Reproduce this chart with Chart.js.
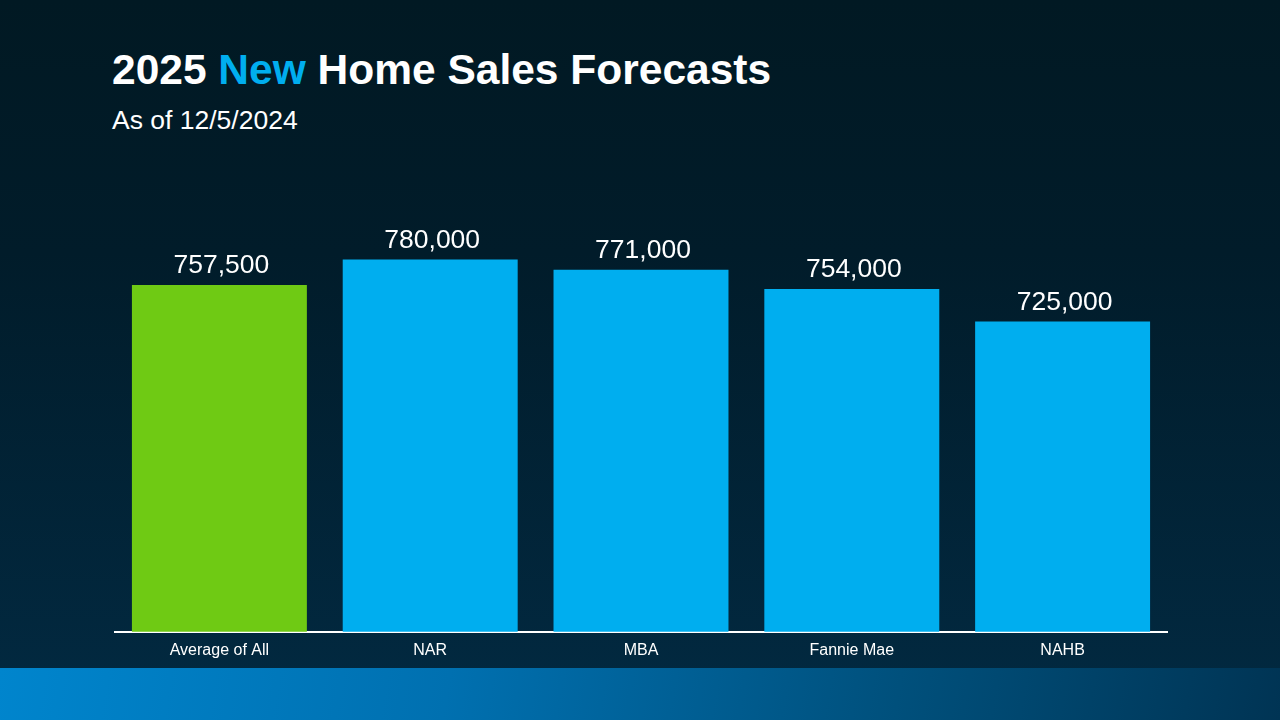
<!DOCTYPE html>
<html>
<head>
<meta charset="utf-8">
<script src="https://cdn.jsdelivr.net/npm/chart.js@4/dist/chart.umd.min.js"></script>
<style>
    html, body {
        margin: 0;
        padding: 0;
        width: 1280px;
        height: 720px;
        overflow: hidden;
    }
    body {
        position: relative;
        font-family: "Liberation Sans", Arial, sans-serif;
        background: linear-gradient(180deg, #011923 0%, #011c2a 35%, #022a42 100%);
    }
    .title {
        position: absolute;
        left: 112px;
        top: 46px;
        margin: 0;
        font-size: 42.5px;
        font-weight: bold;
        color: #ffffff;
        white-space: nowrap;
    }
    .title span {
        color: #00aeef;
    }
    .subtitle {
        position: absolute;
        left: 112px;
        top: 105px;
        margin: 0;
        font-size: 26.5px;
        color: #ffffff;
    }
    .chart-wrapper {
        position: absolute;
        left: 114px;
        top: 197px;
        width: 1054px;
        height: 472px;
    }
    .footer-band {
        position: absolute;
        left: 0;
        top: 668px;
        width: 1280px;
        height: 52px;
        background: linear-gradient(100deg, #0085cd 0%, #0070b0 35%, #00507c 70%, #003454 100%);
    }
</style>
</head>
<body>
<h1 class="title">2025 <span>New</span> Home Sales Forecasts</h1>
<p class="subtitle">As of 12/5/2024</p>
<div class="chart-wrapper">
    <canvas id="forecast-chart"></canvas>
</div>
<div class="footer-band"></div>

<script>
const categories = ["Average of All", "NAR", "MBA", "Fannie Mae", "NAHB"];
const forecastValues = [757500, 780000, 771000, 754000, 725000];
const barColors = ["#6fca14", "#00aeef", "#00aeef", "#00aeef", "#00aeef"];

// draws the number above each bar
const valueLabels = {
    id: "valueLabels",
    afterDatasetsDraw(chart) {
        const ctx = chart.ctx;
        const meta = chart.getDatasetMeta(0);
        ctx.save();
        ctx.fillStyle = "#ffffff";
        ctx.font = "26.5px 'Liberation Sans', Arial, sans-serif";
        ctx.textAlign = "center";
        ctx.textBaseline = "alphabetic";
        meta.data.forEach((bar, i) => {
            ctx.fillText(forecastValues[i].toLocaleString("en-US"), bar.x + 2, bar.y - 12);
        });
        ctx.restore();
    }
};

const ctx = document.getElementById("forecast-chart");

new Chart(ctx, {
    type: "bar",
    data: {
        labels: categories,
        datasets: [{
            data: forecastValues,
            backgroundColor: barColors,
            borderWidth: 0,
            barPercentage: 0.83,
            categoryPercentage: 1
        }]
    },
    options: {
        responsive: true,
        maintainAspectRatio: false,
        animation: false,
        layout: {
            padding: { top: 40 }
        },
        plugins: {
            legend: {
                display: false
            },
            tooltip: {
                enabled: false
            }
        },
        scales: {
            x: {
                grid: {
                    display: false,
                    drawTicks: false
                },
                border: {
                    display: true,
                    color: "#ffffff",
                    width: 2
                },
                ticks: {
                    color: "#ffffff",
                    padding: 9,
                    font: {
                        family: "'Liberation Sans', Arial, sans-serif",
                        size: 16
                    }
                }
            },
            y: {
                display: false,
                min: 450000,
                max: 800000
            }
        }
    },
    plugins: [valueLabels]
});
</script>
</body>
</html>
